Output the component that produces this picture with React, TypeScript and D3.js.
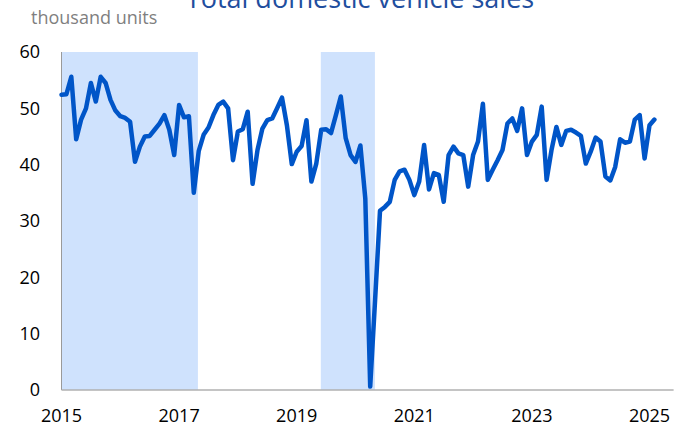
import React from 'react';
import * as d3 from 'd3';

const years = [2015, 2016, 2017, 2018, 2019, 2020, 2021, 2022, 2023, 2024, 2025];

// monthly sales, thousand units, Jan 2015 .. Feb 2025
const sales2015 = [52.4, 52.5, 55.6, 44.5, 48, 50, 54.5, 51.2, 55.6, 54.5, 51.5, 49.6];
const sales2016 = [48.6, 48.3, 47.6, 40.5, 43.2, 45, 45.1, 46.2, 47.3, 48.8, 46.2, 41.7];
const sales2017 = [50.6, 48.4, 48.6, 35, 42.4, 45.3, 46.6, 48.8, 50.6, 51.2, 50, 40.8];
const sales2018 = [45.9, 46.3, 49.4, 36.6, 42.6, 46.4, 47.9, 48.2, 50, 51.9, 47, 40.1];
const sales2019 = [42.3, 43.3, 47.9, 37, 40.2, 46.2, 46.3, 45.6, 48.8, 52.1, 44.7, 41.7];
const sales2020 = [40.5, 43.4, 34, 0.6, 16, 31.8, 32.5, 33.4, 37.3, 38.8, 39.1, 37.3];
const sales2021 = [34.6, 37, 43.5, 35.6, 38.5, 38.2, 33.4, 41.7, 43.2, 42, 41.7, 36.1];
const sales2022 = [41.7, 44.1, 50.8, 37.3, 39.1, 40.8, 42.6, 47.3, 48.2, 46, 50, 41.7];
const sales2023 = [44.1, 45.3, 50.3, 37.3, 42.6, 46.7, 43.5, 46, 46.2, 45.7, 45.1, 40.2];
const sales2024 = [42.3, 44.8, 44.1, 37.9, 37.2, 39.6, 44.5, 43.9, 44.1, 48, 48.8, 41.1];
const sales2025 = [47, 48];

const salesByYear = [sales2015, sales2016, sales2017, sales2018, sales2019, sales2020,
  sales2021, sales2022, sales2023, sales2024, sales2025];

// shaded periods (decimal years)
const shadedPeriods = [[2015, 2017.32], [2019.41, 2020.33]];

const yTicks = [0, 10, 20, 30, 40, 50, 60];
const xTicks = [2015, 2017, 2019, 2021, 2023, 2025];

const W = 686;
const H = 427;

export default function App() {
  const x = d3.scaleLinear().domain([2015, 2025]).range([61.5, 649.5]);
  const y = d3.scaleLinear().domain([0, 60]).range([390, 52]);
  const xEnd = x(2025.41);

  const points = [];
  salesByYear.forEach((vals, i) => {
    vals.forEach((v, m) => points.push({ t: years[i] + m / 12, v }));
  });

  const line = d3.line().x(d => x(d.t)).y(d => y(d.v));

  const font = '"Open Sans", sans-serif';

  return (
    <svg width={W} height={H} style={{ position: 'absolute', left: 0, top: 0 }}>
      <rect width={W} height={H} fill="#fff" />
      {shadedPeriods.map(([a, b], i) => (
        <rect key={i} x={x(a)} y={y(60)} width={x(b) - x(a)} height={y(0) - y(60)} fill="#cfe2fd" />
      ))}
      <line x1={x(2015)} x2={x(2015)} y1={y(60)} y2={y(0)} stroke="#9a9a9a" strokeWidth={1} />
      <line x1={x(2015)} x2={xEnd} y1={y(0)} y2={y(0)} stroke="#b0b0b0" strokeWidth={1.5} />
      <path d={line(points)} fill="none" stroke="#0055c8" strokeWidth={4.5}
        strokeLinejoin="round" strokeLinecap="round" />
      {yTicks.map(t => (
        <text key={t} x={40} y={y(t)} dy="0.35em" textAnchor="end" fontFamily={font}
          fontSize={18} fill="#000">{t}</text>
      ))}
      {xTicks.map(t => (
        <text key={t} x={x(t)} y={422} textAnchor="middle" fontFamily={font}
          fontSize={18} fill="#000">{t}</text>
      ))}
      <text x={31} y={24} fontFamily={font} fontSize={18} fill="#7f7f7f">thousand units</text>
      <text x={360} y={8} textAnchor="middle" fontFamily={font} fontSize={27} fill="#1f4e9e">
        Total domestic vehicle sales
      </text>
    </svg>
  );
}
